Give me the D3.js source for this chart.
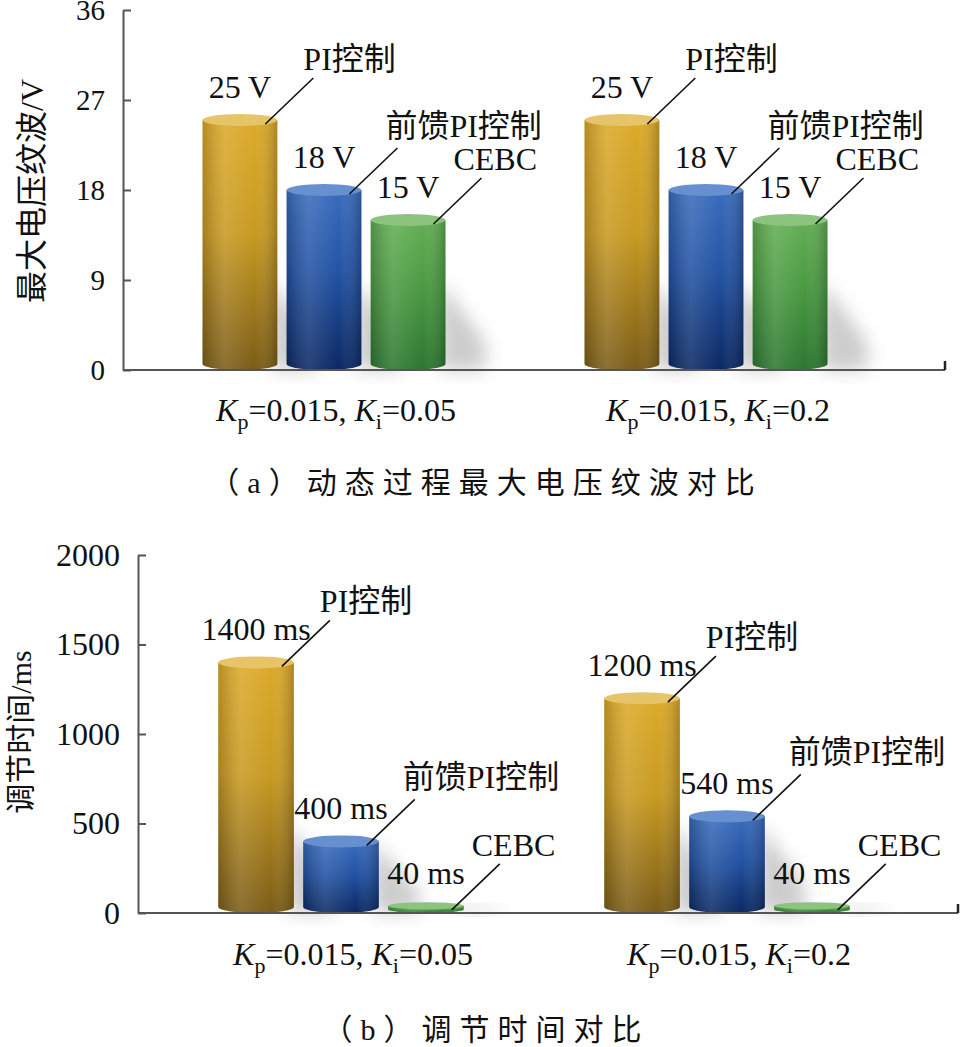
<!DOCTYPE html>
<html>
<head>
<meta charset="utf-8">
<script src="https://cdn.jsdelivr.net/npm/d3@7"></script>
<style>
body { margin: 0; background: #fff; }
text { font-family: "Liberation Serif", "Noto Sans CJK SC", serif; fill: #111; white-space: pre; }
</style>
</head>
<body>
<div id="chart"></div>
<script>
// data
const groups = ["g1", "g2"];
const kpValues = ["0.015", "0.015"];
const kiValues = ["0.05", "0.2"];
const seriesNames = ["PI控制", "前馈PI控制", "CEBC"];
const rippleValues = [[25, 18, 15], [25, 18, 15]];
const rippleTicks = [0, 9, 18, 27, 36];
const settleValues = [[1400, 400, 40], [1200, 540, 40]];
const settleTicks = [0, 500, 1000, 1500, 2000];

var colors = {
    "PI控制": { top: "#dcaa2a", mid: "#c89a22", bottom: "#7a5c17", cap: "#e8c468" },
    "前馈PI控制": { top: "#3a6cbc", mid: "#2353a4", bottom: "#0a2862", cap: "#6690cf" },
    "CEBC": { top: "#63ae53", mid: "#4a9a42", bottom: "#2c7630", cap: "#8cc47f" }
};
// where each name label sits relative to the end of its leader line
var labelOffset = {
    "PI控制": { dx: -10, dy: -8 },
    "前馈PI控制": { dx: -12, dy: -11 },
    "CEBC": { dx: -28, dy: -8 }
};

var charts = [
    {
        values: rippleValues, ticks: rippleTicks, max: 36, unit: "V",
        title: "最大电压纹波/V", caption: "（a）动态过程最大电压纹波对比",
        axisX: 123, right: 945, top: 10, bottom: 370, bandRange: [133, 897],
        tickFont: 29, titleX: 32, titleY: 191, titleFont: 32,
        groupLabelY: 421, captionY: 493
    },
    {
        values: settleValues, ticks: settleTicks, max: 2000, unit: "ms",
        title: "调节时间/ms", caption: "（b）调节时间对比",
        axisX: 138, right: 958, top: 555, bottom: 913, bandRange: [148, 920],
        tickFont: 32, titleX: 20, titleY: 732, titleFont: 30,
        groupLabelY: 965, captionY: 1040
    }
];

var svg = d3.select("#chart")
    .append("svg")
    .attr("width", 962)
    .attr("height", 1047);

var defs = svg.append("defs");

seriesNames.forEach(function (name, i) {
    var c = colors[name];
    var grad = defs.append("linearGradient")
        .attr("id", "body" + i)
        .attr("x1", 0).attr("y1", 0).attr("x2", 0).attr("y2", 1);
    grad.append("stop").attr("offset", "0%").attr("stop-color", c.top);
    grad.append("stop").attr("offset", "45%").attr("stop-color", c.mid);
    grad.append("stop").attr("offset", "100%").attr("stop-color", c.bottom);
});

// cylinder shading across the bar
var shade = defs.append("linearGradient").attr("id", "shade");
shade.append("stop").attr("offset", "0%").attr("stop-color", "#000").attr("stop-opacity", 0.18);
shade.append("stop").attr("offset", "30%").attr("stop-color", "#fff").attr("stop-opacity", 0.12);
shade.append("stop").attr("offset", "70%").attr("stop-color", "#fff").attr("stop-opacity", 0);
shade.append("stop").attr("offset", "100%").attr("stop-color", "#000").attr("stop-opacity", 0.22);

defs.append("filter").attr("id", "blur")
    .attr("x", "-50%").attr("y", "-50%").attr("width", "200%").attr("height", "200%")
    .append("feGaussianBlur").attr("stdDeviation", 9);

function drawChart(c) {
    var y = d3.scaleLinear().domain([0, c.max]).range([c.bottom, c.top]);
    var x0 = d3.scaleBand().domain(groups).range(c.bandRange)
        .paddingInner(0.364).paddingOuter(0.182);
    var x1 = d3.scaleBand().domain(seriesNames).range([0, x0.bandwidth()]).paddingInner(0.11);

    var bars = [];
    groups.forEach(function (g, gi) {
        seriesNames.forEach(function (name, si) {
            var v = c.values[gi][si];
            bars.push({
                name: name, si: si, value: v,
                x: x0(g) + x1(name), w: x1.bandwidth(),
                top: y(v), base: y(0)
            });
        });
    });

    // soft floor shadows
    svg.append("g").selectAll("path")
        .data(bars)
        .enter().append("path")
        .attr("d", function (d) {
            var h = Math.min(d.base - d.top, 90);
            return "M" + (d.x + d.w - 6) + "," + d.base +
                "L" + (d.x + d.w - 6) + "," + (d.base - h) +
                "L" + (d.x + d.w + 40) + "," + (d.base - h * 0.3) +
                "L" + (d.x + d.w + 40) + "," + d.base + "Z";
        })
        .attr("fill", "#9a9a9a")
        .attr("opacity", 0.5)
        .attr("filter", "url(#blur)");

    function bodyPath(d) {
        var ry = Math.min(6, (d.base - d.top) / 2);
        return "M" + d.x + "," + d.top +
            "L" + d.x + "," + (d.base - ry) +
            "A" + (d.w / 2) + "," + ry + " 0 0 0 " + (d.x + d.w) + "," + (d.base - ry) +
            "L" + (d.x + d.w) + "," + d.top + "Z";
    }

    var bar = svg.append("g").selectAll("g")
        .data(bars)
        .enter().append("g");

    bar.append("path")
        .attr("d", bodyPath)
        .attr("fill", function (d) { return "url(#body" + d.si + ")"; });

    bar.append("path")
        .attr("d", bodyPath)
        .attr("fill", "url(#shade)");

    bar.append("ellipse")
        .attr("cx", function (d) { return d.x + d.w / 2; })
        .attr("cy", function (d) { return d.top; })
        .attr("rx", function (d) { return d.w / 2; })
        .attr("ry", function (d) { return Math.min(6, (d.base - d.top) / 2); })
        .attr("fill", function (d) { return colors[d.name].cap; });

    // value labels
    svg.append("g").selectAll("text")
        .data(bars)
        .enter().append("text")
        .attr("x", function (d) { return d.x + d.w / 2; })
        .attr("y", function (d) { return d.top - 22; })
        .attr("text-anchor", "middle")
        .style("font-size", "32px")
        .text(function (d) { return d.value + " " + c.unit; });

    // leader lines and series names
    bars.forEach(function (d) {
        var ex = d.x + d.w - 12, ey = d.top + 4;
        var sx = ex + 48, sy = ey - 46;
        svg.append("line")
            .attr("x1", sx).attr("y1", sy)
            .attr("x2", ex).attr("y2", ey)
            .attr("stroke", "#111")
            .attr("stroke-width", 1.6);
        svg.append("text")
            .attr("x", sx + labelOffset[d.name].dx)
            .attr("y", sy + labelOffset[d.name].dy)
            .style("font-size", "32px")
            .text(d.name);
    });

    // y axis, ticks pointing inward
    svg.append("g")
        .attr("transform", "translate(" + c.axisX + ",0)")
        .call(d3.axisLeft(y).tickValues(c.ticks).tickFormat(d3.format("d"))
            .tickSizeInner(-8).tickSizeOuter(0).tickPadding(18))
        .attr("font-family", null)
        .attr("font-size", null)
        .call(function (g) {
            g.select(".domain").attr("stroke", "#555").attr("stroke-width", 2);
            g.selectAll(".tick line").attr("stroke", "#555").attr("stroke-width", 2);
            g.selectAll(".tick text").style("font-size", c.tickFont + "px");
        });

    // x axis line with end tick
    svg.append("line")
        .attr("x1", c.axisX).attr("y1", c.bottom)
        .attr("x2", c.right).attr("y2", c.bottom)
        .attr("stroke", "#555").attr("stroke-width", 2);
    svg.append("line")
        .attr("x1", c.right).attr("y1", c.bottom)
        .attr("x2", c.right).attr("y2", c.bottom - 9)
        .attr("stroke", "#222").attr("stroke-width", 2.5);

    // group labels Kp / Ki
    groups.forEach(function (g, i) {
        var t = svg.append("text")
            .attr("x", x0(g) + x0.bandwidth() / 2 + 12)
            .attr("y", c.groupLabelY)
            .attr("text-anchor", "middle")
            .style("font-size", "32px");
        t.append("tspan").attr("font-style", "italic").text("K");
        t.append("tspan").style("font-size", "22px").attr("dy", 8).text("p");
        t.append("tspan").attr("dy", -8).text("=" + kpValues[i] + ", ");
        t.append("tspan").attr("font-style", "italic").text("K");
        t.append("tspan").style("font-size", "22px").attr("dy", 8).text("i");
        t.append("tspan").attr("dy", -8).text("=" + kiValues[i]);
    });

    // y title
    svg.append("text")
        .attr("transform", "translate(" + c.titleX + "," + c.titleY + ") rotate(-90)")
        .attr("dy", "0.35em")
        .attr("text-anchor", "middle")
        .style("font-size", c.titleFont + "px")
        .text(c.title);

    // caption
    svg.append("text")
        .attr("x", 486)
        .attr("y", c.captionY)
        .attr("text-anchor", "middle")
        .style("font-size", "30px")
        .style("letter-spacing", "8px")
        .text(c.caption);
}

charts.forEach(drawChart);
</script>
</body>
</html>
